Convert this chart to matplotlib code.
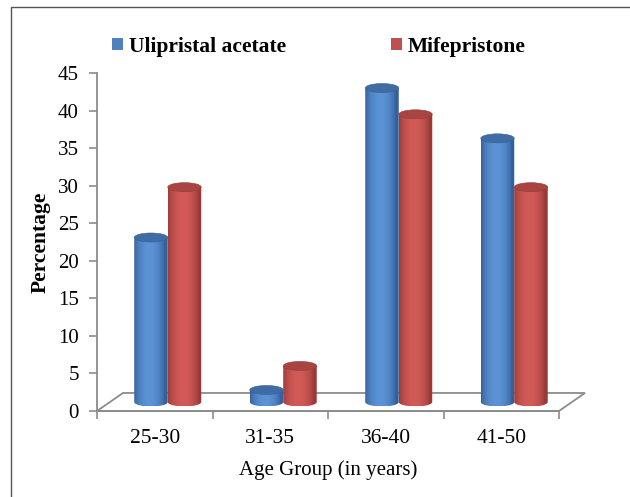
import numpy as np
import matplotlib.pyplot as plt
from matplotlib.patches import Patch, Ellipse, Polygon, Rectangle
from matplotlib.colors import to_rgb

plt.rcParams['font.family'] = ['Liberation Serif', 'DejaVu Serif']

age_groups = ["25-30", "31-35", "36-40", "41-50"]
ulipristal = [21.9, 1.6, 41.8, 35.1]
mifepristone = [28.6, 4.8, 38.3, 28.6]
series_names = ["Ulipristal acetate", "Mifepristone"]

# light, dark, top colours for each series
blue = ("#5b93d6", "#34609a", "#3f6ca3")
red = ("#d25b57", "#9a3a38", "#a84442")

fig = plt.figure(figsize=(6.3, 4.97), dpi=100)
ax = fig.add_axes([97 / 630, 1 - 411 / 497, 462 / 630, 338 / 497])

# outer frame (cropped on right/bottom)
fig.patches.append(Rectangle((11 / 630, -0.1), 1.2, 1.1 - 7 / 497,
                             transform=fig.transFigure, fill=False,
                             edgecolor="#555555", lw=1.0))

depth_x, depth_y = 0.225, 2.4     # floor depth in data units
bw = 0.29                         # bar width
eh = 1.2                          # ellipse height (data units)
grey = "#8c8c8c"

# floor
fl = Polygon([(-0.5, 0), (3.5, 0), (3.5 + depth_x, depth_y), (-0.5 + depth_x, depth_y)],
             closed=True, fill=False, edgecolor=grey, lw=1.3, clip_on=False, zorder=1)
ax.add_patch(fl)

t = np.linspace(0, 1, 64)
shade = np.clip(np.sin(np.pi * np.clip(t * 1.1, 0, 1)) ** 0.7, 0, 1)


def cylinder(xc, val, cols):
    light, dark, top = [np.array(to_rgb(c)) for c in cols]
    grad = dark[None, :] + (light - dark)[None, :] * shade[:, None]
    img = grad[None, :, :]
    x0, x1 = xc - bw / 2, xc + bw / 2
    yb = depth_y / 2
    yt = val + depth_y / 2
    ang = np.linspace(np.pi, 2 * np.pi, 40)
    pts = [(x0, yt)] + [(xc + bw / 2 * np.cos(a), yb + eh / 2 * np.sin(a)) for a in ang] + [(x1, yt)]
    clip = Polygon(pts, closed=True, facecolor="none", edgecolor="none", transform=ax.transData)
    ax.add_patch(clip)
    im = ax.imshow(img, extent=[x0, x1, yb - eh / 2, yt], aspect="auto",
                   interpolation="bilinear", zorder=3)
    im.set_clip_path(clip)
    ax.add_patch(Ellipse((xc, yt), bw, eh, facecolor=top, edgecolor=dark, lw=0.4, zorder=4))


x = np.arange(len(age_groups))
for i in x:
    cylinder(i - bw / 2 + depth_x / 2, ulipristal[i], blue)
    cylinder(i + bw / 2 + depth_x / 2, mifepristone[i], red)

ax.set_xlim(-0.5, 3.5)
ax.set_ylim(0, 45)
ax.set_yticks(range(0, 46, 5))
ax.set_xticks(np.arange(-0.5, 3.6, 1))
ax.set_xticklabels([])
ax.set_xticks(x, age_groups, minor=True)
ax.tick_params(axis="x", which="minor", length=0, pad=13, labelsize=15.5)
ax.tick_params(axis="x", which="major", length=6, color=grey, width=1.2)
ax.tick_params(axis="y", length=6, color=grey, width=1.2, labelsize=15, pad=7)
for s in ["top", "right"]:
    ax.spines[s].set_visible(False)
for s in ["left", "bottom"]:
    ax.spines[s].set_color(grey)
    ax.spines[s].set_linewidth(1.3)
ax.set_facecolor("none")

ax.set_xlabel("Age Group (in years)", fontsize=15, labelpad=9)
ax.set_ylabel("Percentage", fontsize=15.5, fontweight="bold", labelpad=5)

handles = [Patch(facecolor="#4f81bd"), Patch(facecolor="#c0504d")]
fig.legend(handles, series_names, loc="center left", bbox_to_anchor=(93 / 630, 1 - 47 / 497),
           ncol=2, frameon=False, prop={"weight": "bold", "size": 15.5},
           handlelength=0.5, handleheight=0.5, handletextpad=0.25, columnspacing=4.9)

fig.savefig("out.png", dpi=100)
